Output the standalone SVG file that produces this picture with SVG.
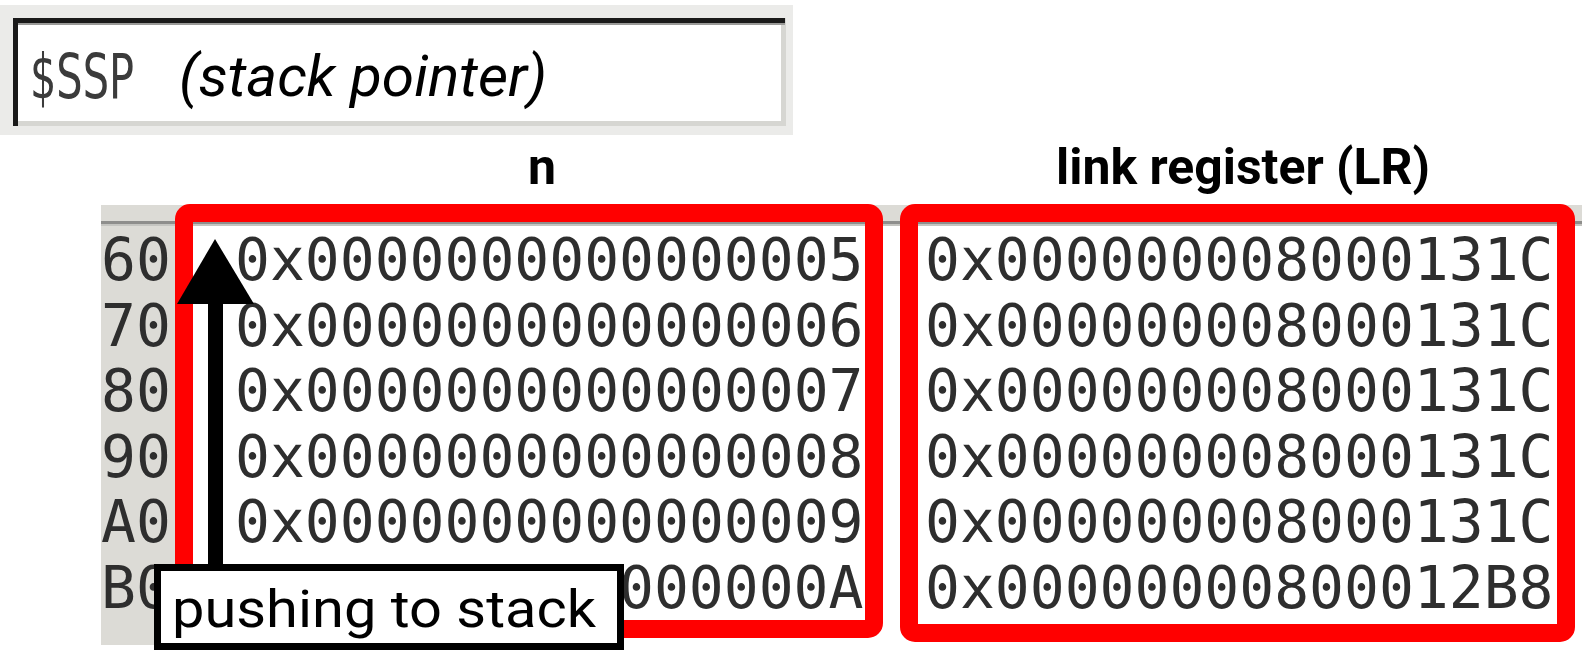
<svg xmlns="http://www.w3.org/2000/svg" width="1582" height="650" viewBox="0 0 1582 650">
  <defs>
    <style>
      .mono { font-family: "DejaVu Sans Mono", "Liberation Mono", monospace; font-size: 58px; fill: #2e2e2e; }
      .lbl { font-family: Roboto, "Liberation Sans", sans-serif; font-weight: bold; font-size: 50px; fill: #000; }
      .redbox { fill: none; stroke: #ff0000; stroke-width: 18; }
    </style>
    <filter id="soft" x="-5%" y="-5%" width="110%" height="110%">
      <feGaussianBlur stdDeviation="0.6"/>
    </filter>
  </defs>
  <rect width="1582" height="650" fill="#ffffff"/>

  <!-- SSP panel -->
  <g id="ssp-panel">
    <rect x="0" y="5" width="793" height="130" fill="#ebebe9"/>
    <rect x="13" y="18" width="773" height="108" fill="#d6d6d2"/>
    <rect x="18" y="23" width="763" height="98" fill="#ffffff"/>
    <rect x="13" y="18" width="772" height="5" fill="#1a1a1a"/>
    <rect x="13" y="23" width="772" height="2" fill="#9a9a98"/>
    <rect x="13" y="18" width="5" height="108" fill="#1a1a1a"/>
    <text x="30" y="98" font-family="DejaVu Sans, sans-serif" font-size="62" fill="#3a3a3a" textLength="104" lengthAdjust="spacingAndGlyphs" filter="url(#soft)">$SSP</text>
    <text x="179" y="96" font-family="Roboto, 'Liberation Sans', sans-serif" font-style="italic" font-size="58" fill="#000" textLength="368" lengthAdjust="spacingAndGlyphs">(stack pointer)</text>
  </g>

  <!-- column labels -->
  <g id="label-n"><text class="lbl" x="542" y="184" text-anchor="middle">n</text></g>
  <g id="label-lr"><text class="lbl" x="1056" y="184" textLength="374" lengthAdjust="spacingAndGlyphs">link register (LR)</text></g>

  <!-- memory table -->
  <g id="table">
    <rect x="101" y="205" width="1481" height="440" fill="#ffffff"/>
    <rect x="101" y="205" width="74" height="440" fill="#dcdbd6"/>
    <rect x="101" y="205" width="1481" height="17" fill="#dcdbd6"/>
    <rect x="101" y="221" width="1481" height="3" fill="#8e8e8c"/>
    <rect x="101" y="224" width="1481" height="2" fill="#c4c4c0"/>
    <rect x="288" y="217" width="272" height="4" fill="#e6c43c"/>
    <g class="mono" filter="url(#soft)">
      <text x="101" y="280">60</text>
      <text x="101" y="345.5">70</text>
      <text x="101" y="411">80</text>
      <text x="101" y="476.5">90</text>
      <text x="101" y="542">A0</text>
      <text x="101" y="607.5">B0</text>
      <text x="235" y="280">0x0000000000000005</text>
      <text x="235" y="345.5">0x0000000000000006</text>
      <text x="235" y="411">0x0000000000000007</text>
      <text x="235" y="476.5">0x0000000000000008</text>
      <text x="235" y="542">0x0000000000000009</text>
      <text x="619" y="607.5">000000A</text>
      <text x="925" y="280">0x000000008000131C</text>
      <text x="925" y="345.5">0x000000008000131C</text>
      <text x="925" y="411">0x000000008000131C</text>
      <text x="925" y="476.5">0x000000008000131C</text>
      <text x="925" y="542">0x000000008000131C</text>
      <text x="925" y="607.5">0x00000000800012B8</text>
    </g>
  </g>

  <!-- highlight boxes -->
  <g id="box-n"><rect class="redbox" x="184" y="213" width="690" height="416" rx="6"/></g>
  <g id="box-lr"><rect class="redbox" x="909" y="213" width="657" height="420" rx="6"/></g>

  <!-- connectors -->
  <g id="connectors">
    <rect x="208" y="302" width="15" height="275" fill="#000"/>
    <polygon points="215,239 177,304 254,304" fill="#000"/>
  </g>

  <g id="push-label">
    <rect x="157.5" y="567.5" width="463" height="79" fill="#ffffff" stroke="#000" stroke-width="7"/>
    <text x="172" y="627" font-family="Roboto, 'Liberation Sans', sans-serif" font-size="51" fill="#000" textLength="424" lengthAdjust="spacingAndGlyphs">pushing to stack</text>
  </g>
</svg>
